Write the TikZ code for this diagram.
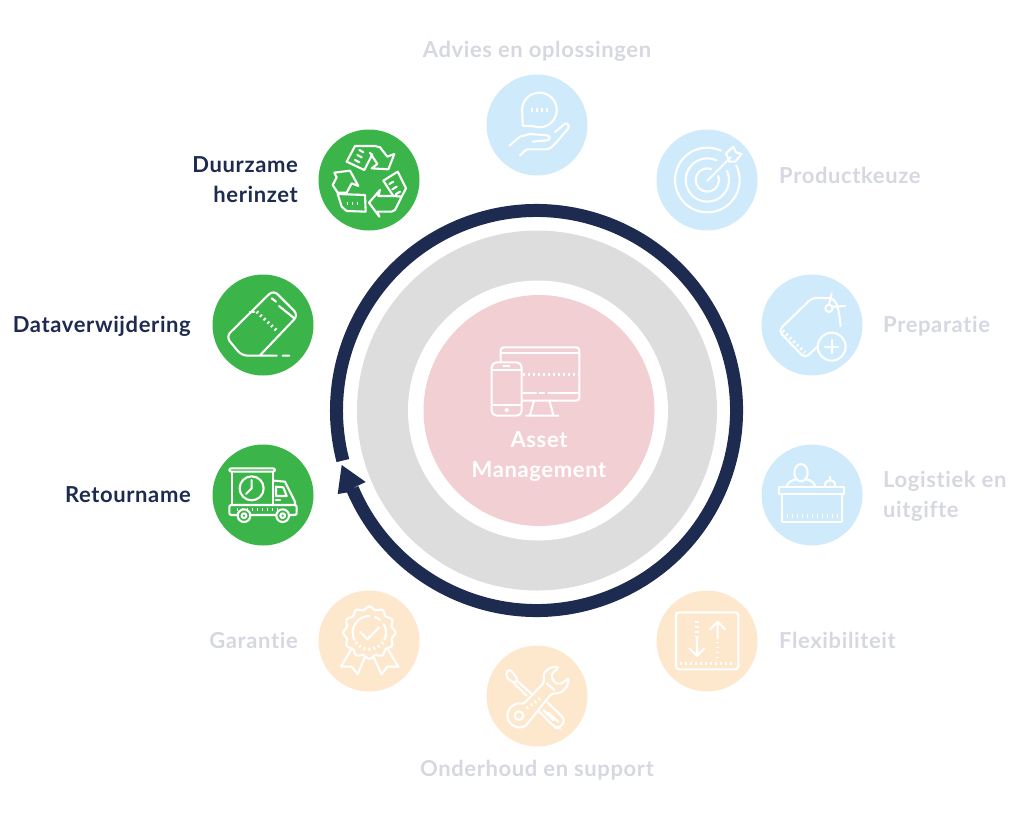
\documentclass[tikz,border=0pt]{standalone}
\usepackage{fontspec}
\setmainfont{Lato}[UprightFont=* Bold,LetterSpace=2.8,Ligatures=NoCommon]
\definecolor{navy}{HTML}{1E2B50}
\definecolor{fade}{HTML}{D6D8E1}
\definecolor{pblue}{HTML}{CFEAFB}
\definecolor{porange}{HTML}{FDE8CE}
\definecolor{pgreen}{HTML}{3BB54A}
\definecolor{ppink}{HTML}{F2CFD3}
\definecolor{pgray}{HTML}{DDDDDD}
\tikzset{
  disc/.style={circle,inner sep=0pt,minimum size=101pt,fill=#1},
  lab/.style={font=\fontsize{22}{30}\selectfont,inner sep=0pt,text=#1},
  icon/.style={draw=white,line width=2.1pt,line join=round,line cap=round},
  dots/.style={draw=white,line width=3.2pt,dash pattern=on 1.8pt off 3.2pt},
  zoomed/.style 2 args={shift={(#1,#2)},scale=0.33333},
}
\begin{document}
\begin{tikzpicture}[x=1pt,y=1pt,yscale=-1]
\useasboundingbox (0,0) rectangle (1024,819);
% rings
\node[circle,inner sep=0pt,minimum size=360pt,fill=pgray] (gray) at (537,410.5) {};
\node[circle,inner sep=0pt,minimum size=260pt,fill=white] (gap) at (538,410.5) {};
\node[circle,inner sep=0pt,minimum size=231pt,fill=ppink] (core) at (539,410.5) {};
\draw[navy,line width=13pt] (536.5,410.5) ++(157:200) arc[start angle=157,end angle=-194.5,radius=200];
\fill[navy] (341.7,465) -- (365.7,482) -- (355,487) -- (350,492) -- (337.7,494) -- cycle;
% discs
\node[disc=pblue] (d1) at (537,125) {};
\node[disc=pblue] (d2) at (707,180) {};
\node[disc=pblue] (d3) at (812,325) {};
\node[disc=pblue] (d4) at (812,495) {};
\node[disc=porange] (d5) at (707,641) {};
\node[disc=porange] (d6) at (537,696) {};
\node[disc=porange] (d7) at (369,641) {};
\node[disc=pgreen] (d8) at (263,495) {};
\node[disc=pgreen] (d9) at (263,325) {};
\node[disc=pgreen] (d10) at (369,180) {};
% labels
\node[lab=fade,anchor=base] (t1) at (537,57) {Advies en oplossingen};
\node[lab=fade,anchor=base west] (t2) at (779,183) {Productkeuze};
\node[lab=fade,anchor=base west] (t3) at (883,332) {Preparatie};
\node[lab=fade,anchor=base west,align=left] (t4) at (883,517) {Logistiek en\\uitgifte};
\node[lab=fade,anchor=base west] (t5) at (779,648) {Flexibiliteit};
\node[lab=fade,anchor=base] (t6) at (537,776) {Onderhoud en support};
\node[lab=fade,anchor=base east] (t7) at (298,648) {Garantie};
\node[lab=navy,anchor=base east] (t8) at (191,502) {Retourname};
\node[lab=navy,anchor=base east] (t9) at (191,332) {Dataverwijdering};
\node[lab=navy,anchor=base east,align=right] (t10) at (298,202) {Duurzame\\herinzet};
\node[lab=white,anchor=base,align=center] (t11) at (539,477) {Asset\\Management};
% Advies icon
\begin{scope}[zoomed={300}{60}]
\draw[icon] (668,197) -- (667,159) arc[start angle=170,end angle=470,radius=52] -- cycle;
\draw[dots] (693,150) -- (748,150);
\draw[icon] (628,257) -- (660,230) -- (690,222) -- (740,226) .. controls (752,228) and (752,240) .. (740,241) -- (698,245);
\draw[icon] (660,286) -- (680,268) -- (735,268) .. controls (750,268) and (760,258) .. (768,248) -- (805,205) .. controls (810,192) and (798,185) .. (790,195) -- (765,216);
\end{scope}
% Target icon
\begin{scope}[zoomed={650}{120}]
\draw[icon] (172,180) ++(-27:97) arc[start angle=-27,end angle=295,radius=97];
\draw[icon] (172,180) ++(-25:65) arc[start angle=-25,end angle=295,radius=65];
\draw[icon] (172,180) ++(-20:35) arc[start angle=-20,end angle=290,radius=35];
\draw[icon] (172,182) -- (242,112);
\draw[icon] (228,100) -- (250,80) -- (258,97) -- (275,102) -- (255,125) -- (238,125) -- cycle;
\end{scope}
% Tag icon
\begin{scope}[zoomed={650}{120}]
\draw[icon,rounded corners=5pt] (572,618) -- (566,570) -- (553,535) -- (487,533) -- (385,632) -- (465,715) -- (502,680);
\draw[icon] (537,565) circle[radius=11];
\draw[icon] (537,553) -- (545,520);
\draw[icon] (550,560) -- (585,558);
\draw[icon] (545,680) circle[radius=42];
\draw[icon] (545,660) -- (545,700) (525,680) -- (565,680);
\draw[dots] (398,632) -- (465,697);
\end{scope}
% Eraser icon
\begin{scope}[zoomed={200}{270}]
\draw[icon,rounded corners=6pt] (180,256) -- (295,135) -- (220,60) -- (78,200) -- (125,257) -- (230,257);
\draw[icon] (150,127) -- (162,127);
\draw[dots] (170,125) -- (235,186);
\draw[icon] (215,85) -- (228,95) (237,108) -- (283,145) (248,257) -- (268,257);
\end{scope}
% Truck icon
\begin{scope}[zoomed={200}{270}]
\draw[icon,rounded corners=2pt] (88,595) rectangle (225,605);
\draw[icon] (95,605) -- (95,705) (218,605) -- (218,705);
\draw[icon] (155,655) circle[radius=36];
\draw[icon] (155,630) -- (155,655) -- (138,672);
\draw[icon] (222,632) -- (255,635) -- (285,695) -- (285,705);
\draw[icon] (228,650) -- (250,652) -- (260,678) -- (228,678) -- cycle;
\draw[icon] (228,690) -- (240,690);
\draw[icon,rounded corners=2pt] (88,705) rectangle (290,735);
\draw[dots] (110,719) -- (232,719);
\foreach \wx in {132,248}{
  \fill[pgreen] (\wx,737) circle[radius=19];
  \draw[icon] (\wx,737) circle[radius=19];
  \draw[icon] (\wx,737) circle[radius=7];
}
\end{scope}
% Devices icon
\begin{scope}[zoomed={460}{330}]
\draw[icon,rounded corners=3pt] (122,52) rectangle (358,212);
\draw[icon] (122,68) -- (358,68);
\draw[dots] (190,133) -- (358,133);
\draw[icon] (190,188) -- (228,188) (238,188) -- (252,188) (265,188) -- (358,188);
\draw[icon] (222,212) -- (210,255) (268,212) -- (280,255) (198,257) -- (295,257);
\draw[icon,fill=ppink,rounded corners=5pt] (95,97) rectangle (185,257);
\draw[icon] (95,120) -- (185,120) (95,225) -- (185,225) (130,108) -- (148,108);
\draw[icon] (140,240) circle[radius=4];
\end{scope}
% Reception icon
\begin{scope}[zoomed={650}{440}]
\draw[icon] (388,140) rectangle (582,162);
\draw[icon] (397,162) -- (397,245) -- (575,245) -- (575,162);
\draw[dots] (410,228) -- (562,228);
\draw[icon] (453,98) ellipse[x radius=20,y radius=26];
\draw[icon] (410,137) .. controls (415,125) and (428,120) .. (438,118);
\draw[icon] (468,118) .. controls (480,120) and (490,125) .. (495,137);
\draw[icon] (524,137) .. controls (526,125) and (535,120) .. (540,120) .. controls (547,120) and (555,125) .. (556,137);
\draw[icon] (540,110) -- (540,120);
\end{scope}
% Flexibility icon
\begin{scope}[zoomed={650}{440}]
\draw[icon,rounded corners=3pt] (78,517) rectangle (265,688);
\draw[dots] (90,670) -- (255,670);
\draw[dots] (141,543) -- (141,590);
\draw[icon] (141,590) -- (141,648) (118,625) -- (141,648) -- (163,625);
\draw[icon] (203,545) -- (203,595) (180,568) -- (203,545) -- (225,568);
\draw[dots] (203,605) -- (203,652);
\end{scope}
% Warranty icon
\begin{scope}[zoomed={310}{585}]
\draw[icon] plot[smooth cycle,variable=\a,samples=48,domain=0:352.5] ({178+(74+5*cos(12*\a))*cos(\a)},{143+(74+5*cos(12*\a))*sin(\a)});
\draw[icon] (178,143) ++(155:50) arc[start angle=155,end angle=270,radius=50];
\draw[icon] (178,143) ++(-70:50) arc[start angle=-70,end angle=-50,radius=50];
\draw[icon] (178,143) ++(-30:50) arc[start angle=-30,end angle=25,radius=50];
\draw[dots] (178,143) ++(35:50) arc[start angle=35,end angle=145,radius=50];
\draw[icon] (150,140) -- (172,163) -- (207,127);
\draw[icon] (125,190) -- (93,245) -- (125,245) -- (143,268) -- (165,215);
\draw[icon] (190,215) -- (215,268) -- (232,245) -- (265,245) -- (232,190);
\end{scope}
% Tools icon
\begin{scope}[zoomed={310}{585}]
\draw[icon,rounded corners=3pt] (588,262) -- (600,252) -- (625,285) -- (612,295) -- (590,278) -- cycle;
\draw[icon] (622,288) -- (665,327) (612,295) -- (650,332);
\draw[icon,rounded corners=5pt] (712,352) -- (767,405) -- (750,430) -- (735,428) -- (680,372);
\draw[icon] (715,383) -- (745,410) (700,375) -- (730,405);
\draw[icon,fill=porange,rounded corners=3pt] (653,415) arc[start angle=42,end angle=290,radius=35] -- (703,292) -- (700,265) -- (720,247) -- (748,245) -- (722,270) -- (735,295) -- (755,297) -- (777,277) -- (772,305) -- (750,325) -- (725,325) -- cycle;
\draw[icon] (627,392) circle[radius=13];
\draw[dots] (650,370) -- (697,335);
\draw[icon] (710,295) -- (733,315);
\end{scope}
% Recycle icon
\begin{scope}[zoomed={300}{60}]
\draw[icon] (165,258) -- (140,305) -- (193,330) -- (217,283);
\draw[icon] (165,258) -- (225,258) -- (240,262) -- (262,290) -- (283,282) -- (265,328) -- (215,325) -- (232,312) -- (210,278);
\draw[icon] (178,270) -- (190,277) (172,285) -- (185,292) (165,300) -- (178,307);
\draw[icon] (250,362) -- (293,335) -- (318,385) -- (305,410) -- (285,450) -- (275,455) -- (232,455) -- (238,470) -- (207,428) -- (240,390) -- (235,408) -- (280,408);
\draw[icon] (250,362) -- (280,408) -- (305,410);
\draw[icon] (268,372) -- (280,365) (277,388) -- (290,380) (287,403) -- (300,395);
\draw[icon] (103,338) -- (150,332) -- (175,378) -- (155,370) -- (140,398) -- (113,398) -- (98,375) -- (110,352) -- cycle;
\draw[icon] (113,402) -- (195,405) -- (197,455) -- (140,453) -- (125,440) -- cycle;
\draw[dots] (140,430) -- (182,430);
\end{scope}
\end{tikzpicture}
\end{document}
